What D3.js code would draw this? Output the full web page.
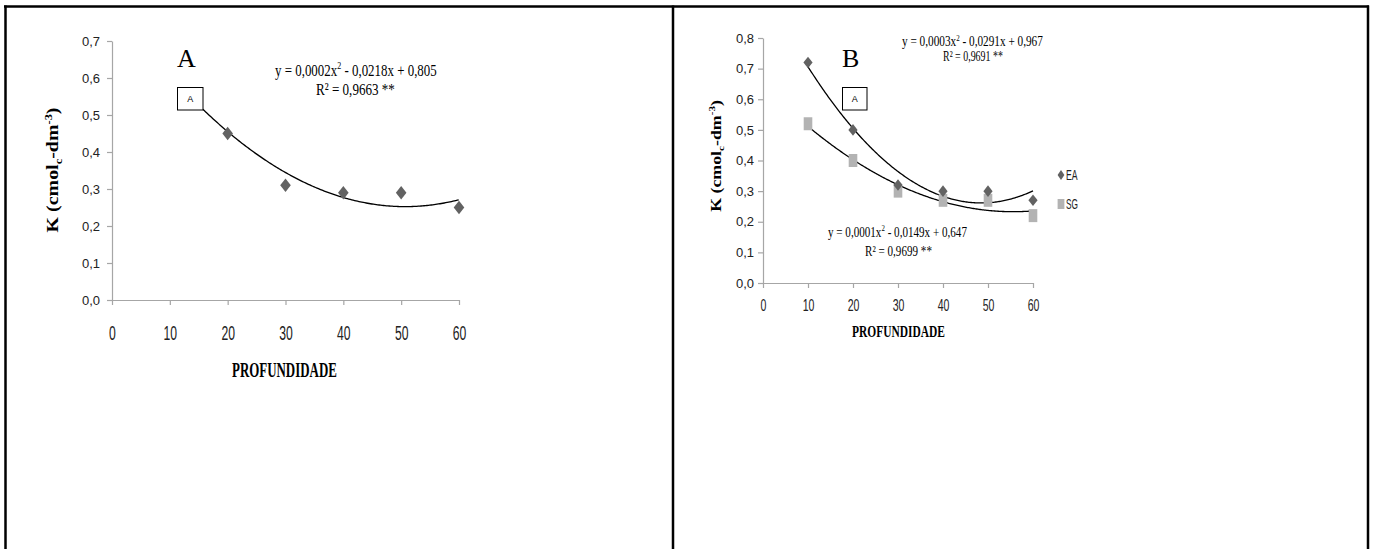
<!DOCTYPE html>
<html><head><meta charset="utf-8">
<script src="https://cdn.jsdelivr.net/npm/d3@7"></script>
<style>body{margin:0;background:#fff}svg{display:block}</style>
</head><body>
<svg id="c" width="1375" height="549"></svg>
<script>
// ---- data ----
const depthA = [20, 30, 40, 50, 60];
const kA = [0.45, 0.31, 0.29, 0.29, 0.25];
const depthB = [10, 20, 30, 40, 50, 60];
const kEA = [0.72, 0.50, 0.32, 0.30, 0.30, 0.27];
const kSG = [0.52, 0.40, 0.30, 0.27, 0.27, 0.22];
const fitA = [0.000215, -0.0218, 0.805];
const fitEA = [0.0003, -0.0291, 0.967];
const fitSG = [0.000134, -0.0149, 0.647];
const fitRangeA = [15.7, 60];
const fitRangeB = [10, 60];
const xTicks = [0, 10, 20, 30, 40, 50, 60];
const yTicksA = [0, 0.1, 0.2, 0.3, 0.4, 0.5, 0.6, 0.7];
const yTicksB = [0, 0.1, 0.2, 0.3, 0.4, 0.5, 0.6, 0.7, 0.8];
const seriesNames = ["EA", "SG"];
const xTitle = "PROFUNDIDADE";
const eqA = ["y = 0,0002x", "2", " - 0,0218x + 0,805"], r2A = "R² = 0,9663 **";
const eqEA = ["y = 0,0003x", "2", " - 0,0291x + 0,967"], r2EA = "R² = 0,9691 **";
const eqSG = ["y = 0,0001x", "2", " - 0,0149x + 0,647"], r2SG = "R² = 0,9699 **";

const svg = d3.select("#c");
const SERIF = "'Liberation Serif','Times New Roman',serif";
const SANS = "'Liberation Sans',Arial,sans-serif";

// frame
const frame = svg.append("g").attr("stroke", "#000").attr("stroke-width", 2.5);
frame.append("line").attr("x1", 4).attr("x2", 1369).attr("y1", 6.5).attr("y2", 6.5);
[5.5, 673, 1368].forEach(x => frame.append("line").attr("x1", x).attr("x2", x).attr("y1", 5.5).attr("y2", 549));

const fmt = d => d3.format(".1f")(d).replace(".", ",");
const poly = (c, x) => c[0] * x * x + c[1] * x + c[2];

function fitText(g, x, y, parts, width, size, family, weight) {
  const t = g.append("text").attr("font-family", family).attr("font-size", size)
    .attr("font-weight", weight || "normal").attr("fill", "#000");
  if (Array.isArray(parts)) {
    t.append("tspan").text(parts[0]);
    t.append("tspan").attr("font-size", size * 0.62).attr("dy", -size * 0.38).text(parts[1]);
    t.append("tspan").attr("dy", size * 0.38).text(parts[2]);
  } else t.text(parts);
  const w = t.node().getBBox().width;
  t.attr("transform", `translate(${x},${y}) scale(${width / w},1)`);
  return t;
}

function diamondPath(w, h) { return `M0,${-h}L${w},0L0,${h}L${-w},0Z`; }

function yTitle(g, x, y, len, size) {
  const t = g.append("text").attr("font-family", SERIF).attr("font-weight", "bold")
    .attr("font-size", size).attr("text-anchor", "middle");
  t.append("tspan").text("K (cmol");
  t.append("tspan").attr("font-size", size * 0.62).attr("dy", size * 0.22).text("c");
  t.append("tspan").attr("dy", -size * 0.22).text("-dm");
  t.append("tspan").attr("font-size", size * 0.62).attr("dy", -size * 0.38).text("-3");
  t.append("tspan").attr("dy", size * 0.38).text(")");
  const w = t.node().getBBox().width;
  t.attr("transform", `translate(${x},${y}) rotate(-90) scale(${len / w},1)`);
}

function panel(cfg) {
  const g = svg.append("g");
  const x = d3.scaleLinear().domain([0, 60]).range(cfg.xr);
  const y = d3.scaleLinear().domain([0, cfg.ymax]).range(cfg.yr);
  // axes
  const xa = g.append("g").attr("transform", `translate(0,${cfg.yr[0]})`)
    .call(d3.axisBottom(x).tickValues(xTicks).tickSize(5).tickSizeOuter(0).tickPadding(cfg.xpad).tickFormat(d3.format("d")));
  xa.selectAll("text").attr("font-family", SANS).attr("font-size", cfg.xfs).attr("fill", "#222")
    .attr("transform", `scale(${cfg.xsx},1)`);
  const ya = g.append("g").attr("transform", `translate(${cfg.xr[0]},0)`)
    .call(d3.axisLeft(y).tickValues(cfg.yTicks).tickSize(5).tickSizeOuter(0).tickPadding(cfg.ypad).tickFormat(fmt));
  ya.selectAll("text").attr("font-family", SANS).attr("font-size", cfg.yfs).attr("fill", "#222");
  g.selectAll(".domain, .tick line").attr("stroke", "#a6a6a6").attr("stroke-width", 1.2);
  // curves
  const line = d3.line().x(d => x(d[0])).y(d => y(d[1])).curve(d3.curveLinear);
  cfg.fits.forEach(f => {
    const pts = d3.range(f.range[0], f.range[1] + 0.001, 0.25).map(v => [v, poly(f.c, v)]);
    g.append("path").attr("d", line(pts)).attr("fill", "none").attr("stroke", "#000").attr("stroke-width", 1.3);
  });
  // points
  cfg.series.forEach(s => {
    const sel = g.append("g").selectAll("path").data(s.xs.map((d, i) => [d, s.ys[i]])).join("path")
      .attr("transform", d => `translate(${x(d[0])},${y(d[1])})`)
      .attr("fill", s.color);
    if (s.shape === "diamond") sel.attr("d", diamondPath(s.w, s.h));
    else sel.attr("d", `M${-s.w},${-s.h}H${s.w}V${s.h}H${-s.w}Z`);
  });
  // x title
  fitText(g, cfg.xtitle[0], cfg.xtitle[1], xTitle, cfg.xtitle[2], cfg.xtitle[3], SERIF, "bold");
  yTitle(g, cfg.ytitle[0], cfg.ytitle[1], cfg.ytitle[2], cfg.ytitle[3]);
  // big letter
  g.append("text").attr("x", cfg.letter[1]).attr("y", cfg.letter[2]).attr("font-family", SERIF)
    .attr("font-size", 26).text(cfg.letter[0]);
  // small box
  const b = cfg.box;
  g.append("rect").attr("x", b[0]).attr("y", b[1]).attr("width", b[2]).attr("height", b[3])
    .attr("fill", "#fff").attr("stroke", "#000").attr("stroke-width", 1);
  g.append("text").attr("x", b[0] + b[2] / 2).attr("y", b[1] + b[3] / 2 + 3.5).attr("text-anchor", "middle")
    .attr("font-family", SANS).attr("font-size", 9).text("A");
  // equations
  cfg.eqs.forEach(e => fitText(g, e[1], e[2], e[0], e[3], e[4], SERIF));
  return {g, x, y};
}

panel({
  xr: [112, 459], yr: [300, 41], ymax: 0.7, yTicks: yTicksA,
  xpad: 20, xfs: 21, xsx: 0.58, ypad: 7, yfs: 13,
  fits: [{c: fitA, range: fitRangeA}],
  series: [{xs: depthA, ys: kA, color: "#626262", shape: "diamond", w: 5.3, h: 6.8}],
  xtitle: [232, 377, 105, 20], ytitle: [58, 170, 125, 16],
  letter: ["A", 177, 67], box: [177.5, 87.5, 25.5, 22.5],
  eqs: [[eqA, 275, 76, 162, 17.5], [r2A, 316, 95, 79, 17.5]]
});

panel({
  xr: [763, 1033], yr: [283, 38], ymax: 0.8, yTicks: yTicksB,
  xpad: 12, xfs: 16, xsx: 0.66, ypad: 4, yfs: 13,
  fits: [{c: fitEA, range: fitRangeB}, {c: fitSG, range: fitRangeB}],
  series: [
    {xs: depthB, ys: kSG, color: "#b3b3b3", shape: "square", w: 4.3, h: 6.5},
    {xs: depthB, ys: kEA, color: "#626262", shape: "diamond", w: 4.6, h: 5.8}
  ],
  xtitle: [852, 336.7, 93, 17.5], ytitle: [721, 156, 112, 14.5],
  letter: ["B", 842, 67], box: [842.5, 87.5, 24.5, 22.5],
  eqs: [[eqEA, 902, 46, 141, 14.5], [r2EA, 943, 60.5, 60, 14.5],
        [eqSG, 828, 237, 139, 14.5], [r2SG, 865, 256, 67, 14.5]]
});

// legend
const leg = svg.append("g");
const legY = [175, 204];
seriesNames.forEach((n, i) => {
  const m = leg.append("path").attr("transform", `translate(1061,${legY[i]})`)
    .attr("fill", i === 0 ? "#626262" : "#b3b3b3");
  if (i === 0) m.attr("d", diamondPath(3.4, 5));
  else m.attr("d", "M-3.4,-5H3.4V5H-3.4Z");
  const t = leg.append("text").attr("font-family", SANS).attr("font-size", 14).attr("fill", "#222").text(n);
  const w = t.node().getBBox().width;
  t.attr("transform", `translate(1066,${legY[i] + 5}) scale(${12 / w},1)`);
});
</script>
</body></html>
